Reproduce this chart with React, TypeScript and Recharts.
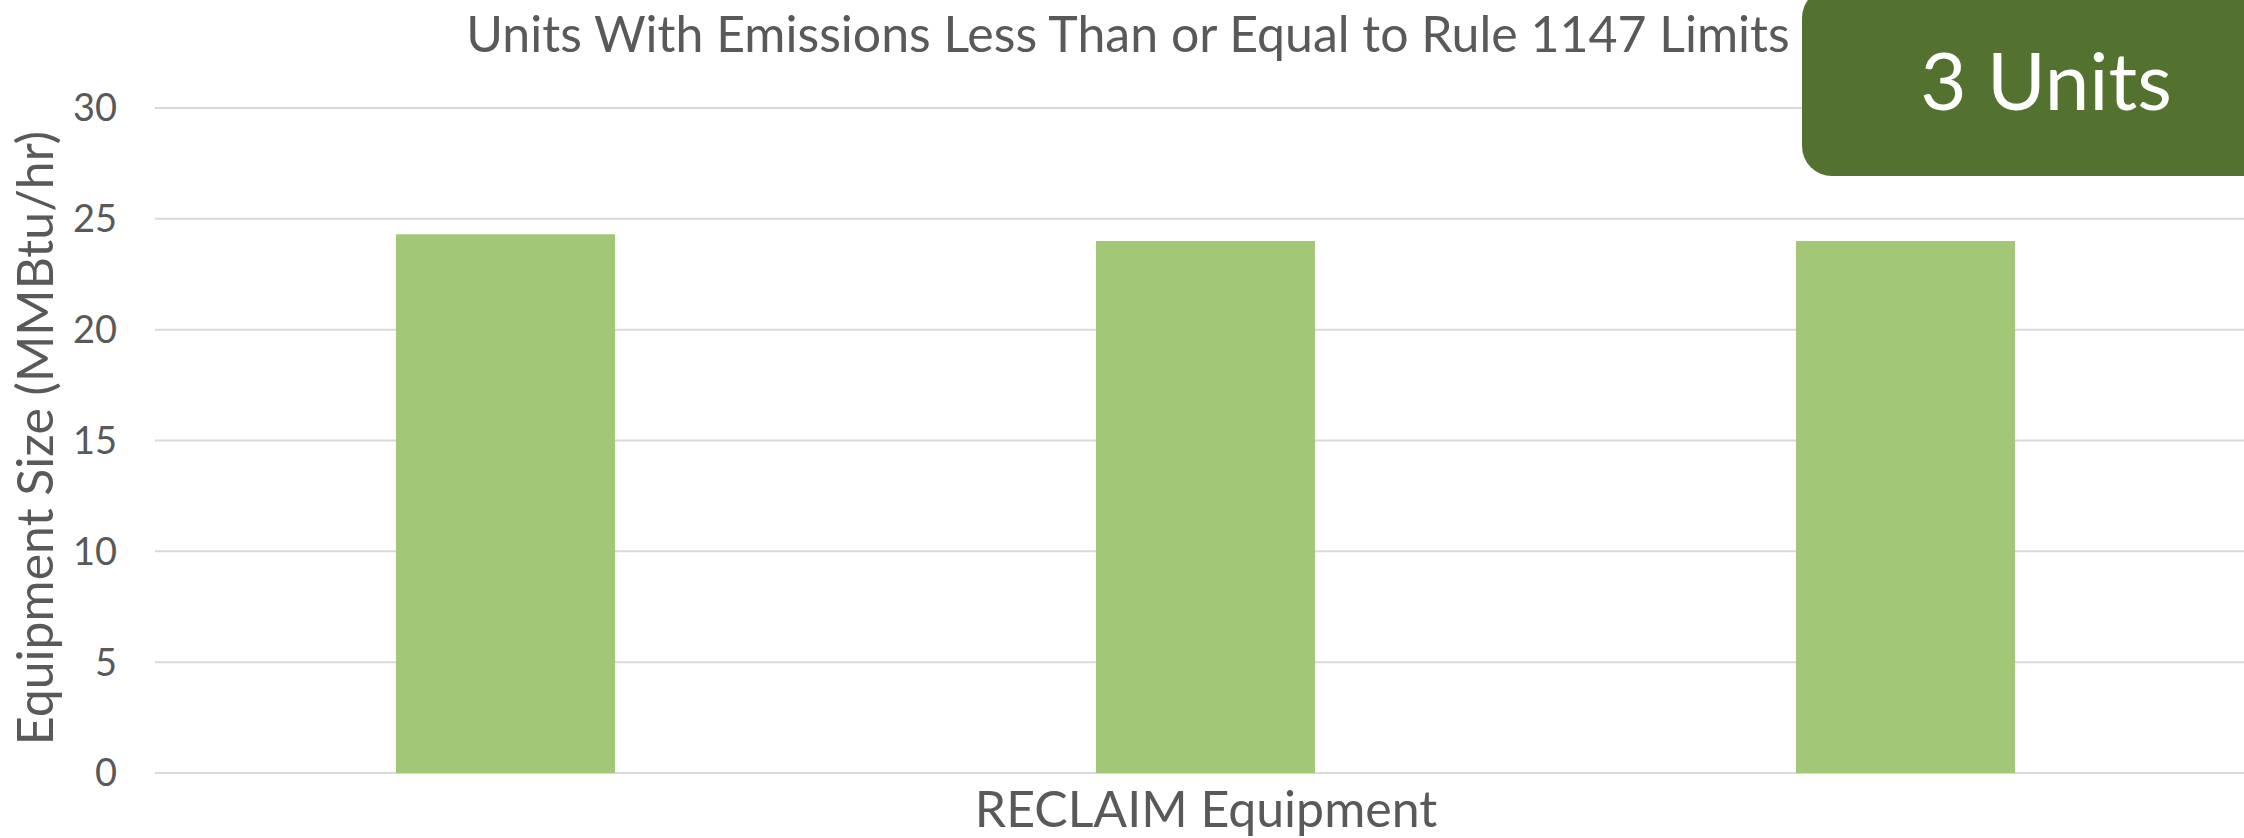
import React from "react";
import { BarChart, Bar, XAxis, YAxis, CartesianGrid } from "recharts";

const categories = ["RECLAIM Equipment"];
const unitA = [24.3];
const unitB = [24];
const unitC = [24];
const yTicks = [0, 5, 10, 15, 20, 25, 30];

const titleText = "Units With Emissions Less Than or Equal to Rule 1147 Limits";
const yLabelText = "Equipment Size (MMBtu/hr)";
const badgeText = "3 Units";

const data = categories.map((name, i) => ({
  name,
  a: unitA[i],
  b: unitB[i],
  c: unitC[i],
}));

const FONT = "Lato, 'Noto Sans', sans-serif";
const TEXT = "#595959";
const BAR = "#a2c777";
const BADGE = "#53722f";

export default function App() {
  return (
    <div style={{ position: "absolute", left: 0, top: 0, width: 2244, height: 838, background: "#fff", overflow: "hidden" }}>
      <BarChart
        width={2244}
        height={838}
        data={data}
        margin={{ top: 108, right: -13, left: 0, bottom: 0 }}
        barCategoryGap={241}
        barGap={481}
      >
        <CartesianGrid vertical={false} stroke="#d9d9d9" strokeWidth={2} />
        <XAxis
          dataKey="name"
          height={65}
          tickLine={false}
          axisLine={false}
          tickSize={0}
          tickMargin={18}
          interval={0}
          tick={{ fill: TEXT, fontSize: 50, fontFamily: FONT }}
        />
        <YAxis
          domain={[0, 30]}
          ticks={yTicks}
          width={155}
          tickLine={false}
          axisLine={false}
          tickSize={0}
          tickMargin={38}
          tick={{ fill: TEXT, fontSize: 38, fontFamily: FONT }}
        />
        <Bar dataKey="a" fill={BAR} isAnimationActive={false} />
        <Bar dataKey="b" fill={BAR} isAnimationActive={false} />
        <Bar dataKey="c" fill={BAR} isAnimationActive={false} />
      </BarChart>
      <svg
        width={2244}
        height={838}
        style={{ position: "absolute", left: 0, top: 0, pointerEvents: "none" }}
      >
        <text x={1128} y={52} textAnchor="middle" fill={TEXT} fontSize={50} fontFamily={FONT}>
          {titleText}
        </text>
        <text
          transform="translate(53,438) rotate(-90)"
          textAnchor="middle"
          fill={TEXT}
          fontSize={50}
          fontFamily={FONT}
        >
          {yLabelText}
        </text>
        <rect x={1802} y={-12} width={500} height={188} rx={30} ry={30} fill={BADGE} />
        <text x={2046} y={110} textAnchor="middle" fill="#ffffff" fontSize={80} fontFamily={FONT}>
          {badgeText}
        </text>
      </svg>
    </div>
  );
}
